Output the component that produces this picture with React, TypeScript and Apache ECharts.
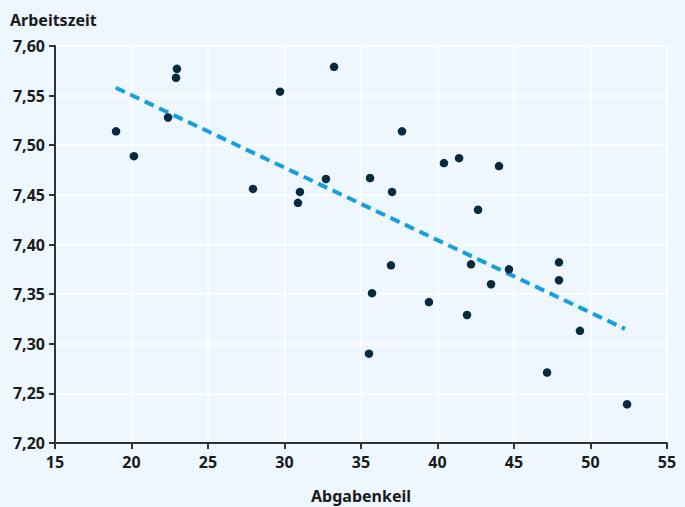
import React, { useEffect, useRef } from "react";
import * as echarts from "echarts";

const abgabenkeil = [
  18.99, 20.16, 22.97, 22.91, 22.39, 27.94, 29.71, 31.01, 30.88, 32.71,
  33.24, 35.59, 37.03, 37.68, 40.42, 41.41, 44.02, 42.65, 36.96, 35.72,
  35.52, 39.44, 42.19, 43.5, 44.67, 41.93, 47.94, 47.94, 49.31, 47.16, 52.39,
];
const arbeitszeit = [
  7.514, 7.489, 7.577, 7.568, 7.528, 7.456, 7.554, 7.453, 7.442, 7.466,
  7.579, 7.467, 7.453, 7.514, 7.482, 7.487, 7.479, 7.435, 7.379, 7.351,
  7.29, 7.342, 7.38, 7.36, 7.375, 7.329, 7.382, 7.364, 7.313, 7.271, 7.239,
];
const trendX = [18.97, 52.25];
const trendY = [7.558, 7.315];

const FONT = "'Noto Sans', sans-serif";
const TEXT = "#1a1a1a";

export default function App() {
  const ref = useRef<HTMLDivElement>(null);
  useEffect(() => {
    document.body.style.margin = "0";
    const chart = echarts.init(ref.current!, null, { renderer: "svg" });
    const fmt = (v: number) => v.toFixed(2).replace(".", ",");
    chart.setOption({
      animation: false,
      backgroundColor: "#eff7fe",
      textStyle: { fontFamily: FONT },
      grid: { left: 55, right: 18, top: 46, bottom: 64, containLabel: false, outerBoundsMode: "none" },
      xAxis: {
        type: "value",
        min: 15,
        max: 55,
        interval: 5,
        name: "Abgabenkeil",
        nameLocation: "middle",
        nameGap: 45,
        nameTextStyle: { fontFamily: FONT, fontSize: 16, fontWeight: "bold", color: TEXT },
        axisLine: { show: true, lineStyle: { color: "#333", width: 2 } },
        axisTick: { show: true, length: 6, lineStyle: { color: "#333", width: 2 } },
        axisLabel: { fontFamily: FONT, fontSize: 16, fontWeight: "bold", color: TEXT, margin: 11 },
        splitLine: { show: true, lineStyle: { color: "#ffffff", width: 1.5 } },
      },
      yAxis: {
        type: "value",
        min: 7.2,
        max: 7.6,
        interval: 0.05,
        name: "Arbeitszeit",
        nameLocation: "end",
        nameGap: 18,
        nameTextStyle: {
          fontFamily: FONT,
          fontSize: 16,
          fontWeight: "bold",
          color: TEXT,
          align: "left",
          padding: [0, 0, 0, -45],
        },
        axisLine: { show: true, lineStyle: { color: "#333", width: 2 } },
        axisTick: { show: true, length: 6, lineStyle: { color: "#333", width: 2 } },
        axisLabel: {
          fontFamily: FONT,
          fontSize: 16,
          fontWeight: "bold",
          color: TEXT,
          margin: 10,
          formatter: fmt,
        },
        splitLine: { show: true, lineStyle: { color: "#ffffff", width: 1.5 } },
      },
      series: [
        {
          type: "line",
          data: trendX.map((x, i) => [x, trendY[i]]),
          symbol: "none",
          lineStyle: { color: "#159fe0", width: 4, type: [10, 6] },
          z: 2,
        },
        {
          type: "scatter",
          data: abgabenkeil.map((x, i) => [x, arbeitszeit[i]]),
          symbol: "circle",
          symbolSize: 8.5,
          itemStyle: { color: "#062a40", opacity: 1 },
          z: 3,
        },
      ],
    });
    return () => chart.dispose();
  }, []);
  return <div ref={ref} style={{ width: 685, height: 507 }} />;
}
